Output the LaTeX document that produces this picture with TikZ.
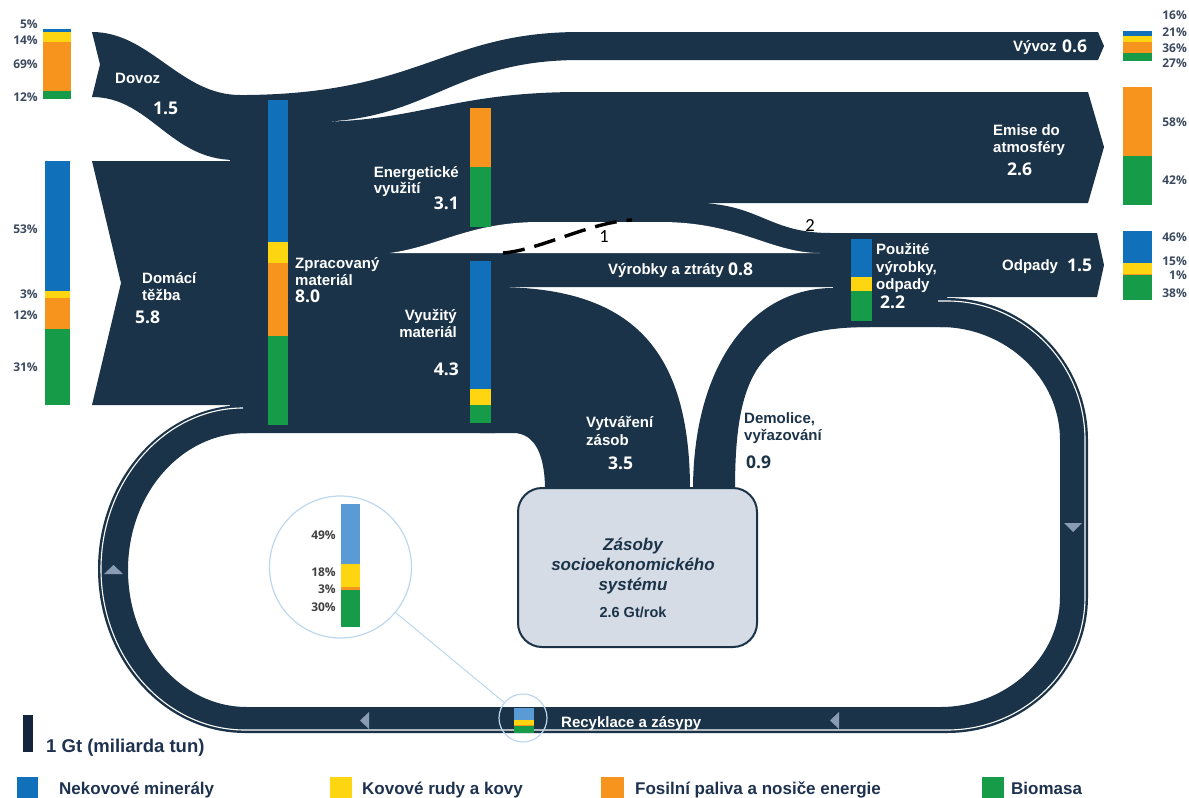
\documentclass[tikz,border=0pt]{standalone}
\usepackage{fontspec}
\setmainfont{Liberation Sans}
\newfontfamily\numfont{Open Sans}
\newfontfamily\calfont{Carlito}
\definecolor{cnavy}{RGB}{27,51,72}
\definecolor{cblue}{RGB}{17,112,186}
\definecolor{cyel}{RGB}{253,213,17}
\definecolor{corg}{RGB}{247,148,30}
\definecolor{cgrn}{RGB}{22,155,72}
\definecolor{clblue}{RGB}{91,155,213}
\definecolor{arrc}{RGB}{138,155,180}
\definecolor{boxc}{RGB}{214,220,229}
\definecolor{circc}{RGB}{189,215,238}
\definecolor{pctc}{RGB}{59,74,94}
\definecolor{legc}{RGB}{30,50,80}
\definecolor{gtc}{RGB}{20,36,61}
\begin{document}
\begin{tikzpicture}[x=1pt,y=-1pt,
  lbl/.style={text=white,font=\bfseries\fontsize{15}{17}\selectfont,inner sep=0pt},
  num/.style={text=white,font=\numfont\bfseries\fontsize{17.5}{20}\selectfont,inner sep=0pt},
  pct/.style={text=pctc,font=\numfont\bfseries\fontsize{12}{14}\selectfont,inner sep=0pt,anchor=base east},
  leg/.style={text=legc,font=\bfseries\fontsize{17}{20}\selectfont,inner sep=0pt,anchor=base west},
  mark1/.style={text=black,font=\calfont\fontsize{18.5}{20}\selectfont,inner sep=0pt,anchor=base},
  zas/.style={text=cnavy,font=\bfseries\itshape\fontsize{17}{20}\selectfont,inner sep=0pt,anchor=base},
  tri/.style={fill=arrc},
  ring/.style={circle,draw=circc,line width=1.2pt,inner sep=0pt}
]
\useasboundingbox (0,0) rectangle (1189,798);

% ---------- dark flows ----------
% Dovoz
\fill[cnavy] (92,32) .. controls (150,32) and (180,95) .. (240,95) -- (240,160) -- (235,160)
  .. controls (170,160) and (150,97) .. (92,97) -- (100,64.5) -- cycle;
% Domaci tezba
\fill[cnavy] (92,161) -- (245,161) -- (245,405) -- (92,405) -- (121,283) -- cycle;
% main body, export, emissions, waste
\fill[cnavy] (230,95) .. controls (420,97) and (440,32) .. (580,32) -- (1098,32) -- (1104,46) -- (1098,60) -- (580,60)
  .. controls (450,60) and (430,122) .. (310,122)
  .. controls (420,122) and (450,92) .. (580,92) -- (1088,92) -- (1104,147) -- (1088,203) -- (700,203)
  .. controls (760,205) and (770,233) .. (830,233) -- (1097,233) -- (1104,265) -- (1097,297) -- (947,297)
  -- (947,327) -- (833,327) -- (833,287) -- (495,287) -- (495,433) -- (230,433) -- cycle;
% Vytvareni zasob
\fill[cnavy] (480,287) -- (495,287) .. controls (631,287) and (690,348) .. (690,490) -- (545,490)
  .. controls (545,455) and (535,433) .. (513,433) -- (480,433) -- cycle;
% Demolice
\fill[cnavy] (870,288) -- (833,288) .. controls (749,288) and (693,369) .. (693,490) -- (735,490)
  .. controls (735,370) and (760,327) .. (870,327) -- cycle;
% recycling loop
\fill[cnavy] (245,405) .. controls (164,405) and (98,478) .. (98,569) .. controls (98,660) and (164,733) .. (245,733)
  -- (947,733) .. controls (1025,733) and (1088,672) .. (1088,597) -- (1088,440)
  .. controls (1088,362) and (1025,298) .. (947,298) -- (940,327)
  .. controls (1006,327) and (1060,378) .. (1060,440) -- (1060,597)
  .. controls (1060,658) and (1006,707) .. (940,707) -- (247,707)
  .. controls (181,707) and (128,646) .. (128,570) .. controls (128,494) and (181,433) .. (247,433) -- cycle;
% thin white line along the outer edge of the loop
\draw[white,line width=1.1pt] (243,408) .. controls (165.5,408) and (101,480) .. (101,569)
  .. controls (101,658) and (165.5,730) .. (245,730) -- (947,730)
  .. controls (1023,730) and (1085,671) .. (1085,597) -- (1085,440)
  .. controls (1085,363) and (1023,301) .. (947,301) -- (938,301);
% white lens between energy flows and products
\fill[white] (390,253) .. controls (440,246) and (470,222) .. (540,222) -- (660,222)
  .. controls (740,222) and (770,253) .. (820,253) -- cycle;
% dashed marker 1
\draw[black,line width=3.4pt,dash pattern=on 22pt off 10pt] (503,253) .. controls (540,250) and (590,222) .. (632,220);

% loop arrows
\fill[tri] (104,574) -- (123,574) -- (113.5,565) -- cycle;
\fill[tri] (369,712) -- (369,729) -- (360,720.5) -- cycle;
\fill[tri] (839,712) -- (839,729) -- (830,720.5) -- cycle;
\fill[tri] (1064,523) -- (1082,523) -- (1073,532) -- cycle;

% ---------- stacked bars ----------
% Dovoz
\fill[cblue] (43,29) rectangle (71,32);
\fill[cyel] (43,32) rectangle (71,42);
\fill[corg] (43,42) rectangle (71,91);
\fill[cgrn] (43,91) rectangle (71,99);
% Domaci
\fill[cblue] (45,161) rectangle (70,291);
\fill[cyel] (45,291) rectangle (70,298);
\fill[corg] (45,298) rectangle (70,329);
\fill[cgrn] (45,329) rectangle (70,405);
% Zpracovany
\fill[cblue] (268,100) rectangle (288,242);
\fill[cyel] (268,242) rectangle (288,263);
\fill[corg] (268,263) rectangle (288,336);
\fill[cgrn] (268,336) rectangle (288,425);
% Energeticke
\fill[corg] (470,108) rectangle (491,167);
\fill[cgrn] (470,167) rectangle (491,227);
% Vyuzity
\fill[cblue] (470,261) rectangle (491,389);
\fill[cyel] (470,389) rectangle (491,405);
\fill[cgrn] (470,405) rectangle (491,423);
% Pouzite
\fill[cblue] (851,239) rectangle (872,277);
\fill[cyel] (851,277) rectangle (872,291);
\fill[cgrn] (851,291) rectangle (872,321);
% Vyvoz
\fill[cblue] (1123,31) rectangle (1152,36);
\fill[cyel] (1123,36) rectangle (1152,42);
\fill[corg] (1123,42) rectangle (1152,53);
\fill[cgrn] (1123,53) rectangle (1152,61);
% Emise
\fill[corg] (1123,87) rectangle (1152,156);
\fill[cgrn] (1123,156) rectangle (1152,205);
% Odpady
\fill[cblue] (1123,231) rectangle (1152,263);
\fill[cyel] (1123,263) rectangle (1152,274);
\fill[corg] (1123,274) rectangle (1152,275);
\fill[cgrn] (1123,275) rectangle (1152,300);

% ---------- labels on flows ----------
\node[lbl,anchor=base west] (dovoz) at (115,83) {Dovoz};
\node[num,anchor=base west] (dovozn) at (153,114) {1.5};
\node[lbl,anchor=base west] (domaci) at (142,283) {Domácí};
\node[lbl,anchor=base west] (tezba) at (142,300) {těžba};
\node[num,anchor=base west] (domacin) at (135,323) {5.8};
\node[lbl,anchor=base west] (zprac) at (295,268) {Zpracovaný};
\node[lbl,anchor=base west] (zprac2) at (295,285) {materiál};
\node[num,anchor=base west] (zpracn) at (295,302) {8.0};
\node[lbl,anchor=base east] (energ) at (459,177) {Energetické};
\node[lbl,anchor=base west] (energ2) at (energ.base west |- 0,193) {využití};
\node[num,anchor=base east] (energn) at (459,209) {3.1};
\node[lbl,anchor=base east] (vyuz) at (457,320) {Využitý};
\node[lbl,anchor=base east] (vyuz2) at (457,337) {materiál};
\node[num,anchor=base east] (vyuzn) at (459,375) {4.3};
\node[lbl,anchor=base west] (vyrob) at (608,274) {Výrobky a ztráty};
\node[num,anchor=base west] (vyrobn) at (728,275) {0.8};
\node[lbl,anchor=base west] (vyvoz) at (1013,51) {Vývoz};
\node[num,anchor=base west] (vyvozn) at (1062,52) {0.6};
\node[lbl,anchor=base west] (emise) at (993,135) {Emise do};
\node[lbl,anchor=base west] (emise2) at (993,152) {atmosféry};
\node[num,anchor=base west] (emisen) at (1007,175) {2.6};
\node[lbl,anchor=base west] (odp) at (1002,270) {Odpady};
\node[num,anchor=base west] (odpn) at (1067,271) {1.5};
\node[lbl,anchor=base west] (pouz) at (876,254) {Použité};
\node[lbl,anchor=base west] (pouz2) at (876,272) {výrobky,};
\node[lbl,anchor=base west] (pouz3) at (876,289) {odpady};
\node[num,anchor=base west] (pouzn) at (880,308) {2.2};
\node[lbl,anchor=base west] (vytv) at (586,427) {Vytváření};
\node[lbl,anchor=base west] (vytv2) at (586,445) {zásob};
\node[num,anchor=base west] (vytvn) at (608,469) {3.5};
\node[lbl,anchor=base west,text=cnavy] (demol) at (744,423) {Demolice,};
\node[lbl,anchor=base west,text=cnavy] (demol2) at (744,440) {vyřazování};
\node[num,anchor=base west,text=cnavy] (demoln) at (746,468) {0.9};
\node[lbl,anchor=base west] (recy) at (561,727) {Recyklace a zásypy};
\node[mark1] (m1) at (604,242) {1};
\node[mark1] (m2) at (810,231) {2};

% ---------- percentages ----------
\node[pct] (p1) at (38,28) {5\%};
\node[pct] (p2) at (38,44) {14\%};
\node[pct] (p3) at (38,68) {69\%};
\node[pct] (p4) at (38,101) {12\%};
\node[pct] (p5) at (38,233) {53\%};
\node[pct] (p6) at (38,298) {3\%};
\node[pct] (p7) at (38,319) {12\%};
\node[pct] (p8) at (38,371) {31\%};
\node[pct] (q1) at (1187,19) {16\%};
\node[pct] (q2) at (1187,36) {21\%};
\node[pct] (q3) at (1187,52) {36\%};
\node[pct] (q4) at (1187,67) {27\%};
\node[pct] (q5) at (1187,126) {58\%};
\node[pct] (q6) at (1187,184) {42\%};
\node[pct] (q7) at (1187,241) {46\%};
\node[pct] (q8) at (1187,265) {15\%};
\node[pct] (q9) at (1187,279) {1\%};
\node[pct] (q10) at (1187,297) {38\%};

% ---------- stock box ----------
\node[draw=cnavy,line width=2pt,fill=boxc,rounded corners=24pt,minimum width=239pt,minimum height=159pt,inner sep=0pt] (zasoby) at (637.5,567.5) {};
\node[zas] (z1) at (633,550) {Zásoby};
\node[zas] (z2) at (633,570) {socioekonomického};
\node[zas] (z3) at (633,590) {systému};
\node[text=cnavy,font=\bfseries\fontsize{14.5}{17}\selectfont,inner sep=0pt,anchor=base] (z4) at (633,617) {2.6 Gt/rok};

% ---------- magnifier ----------
\fill[clblue] (514,708) rectangle (534,720);
\fill[cyel] (514,720) rectangle (534,725);
\fill[corg] (514,725) rectangle (534,726);
\fill[cgrn] (514,726) rectangle (534,733);
\node[ring,minimum size=48pt] (magsm) at (523,718) {};
\node[ring,minimum size=142pt] (mag) at (340.5,567) {};
\draw[circc,line width=1pt] (mag) -- (magsm);
\fill[clblue] (341,504) rectangle (360,564);
\fill[cyel] (341,564) rectangle (360,587);
\fill[corg] (341,587) rectangle (360,590);
\fill[cgrn] (341,590) rectangle (360,627);
\node[pct,text=black!75] (r1) at (336,539) {49\%};
\node[pct,text=black!75] (r2) at (336,576) {18\%};
\node[pct,text=black!75] (r3) at (336,593) {3\%};
\node[pct,text=black!75] (r4) at (336,611) {30\%};

% ---------- legend ----------
\fill[gtc] (23,715) rectangle (33,752);
\node[leg,font=\bfseries\fontsize{18.5}{21}\selectfont] (gt) at (46,752) {1 Gt (miliarda tun)};
\fill[cblue] (17,777) rectangle (38,800);
\node[leg] (l1) at (59,794) {Nekovové minerály};
\fill[cyel] (330,777) rectangle (352,800);
\node[leg] (l2) at (362,794) {Kovové rudy a kovy};
\fill[corg] (601,777) rectangle (624,800);
\node[leg] (l3) at (635,794) {Fosilní paliva a nosiče energie};
\fill[cgrn] (982,777) rectangle (1004,800);
\node[leg] (l4) at (1011,794) {Biomasa};
\end{tikzpicture}
\end{document}
